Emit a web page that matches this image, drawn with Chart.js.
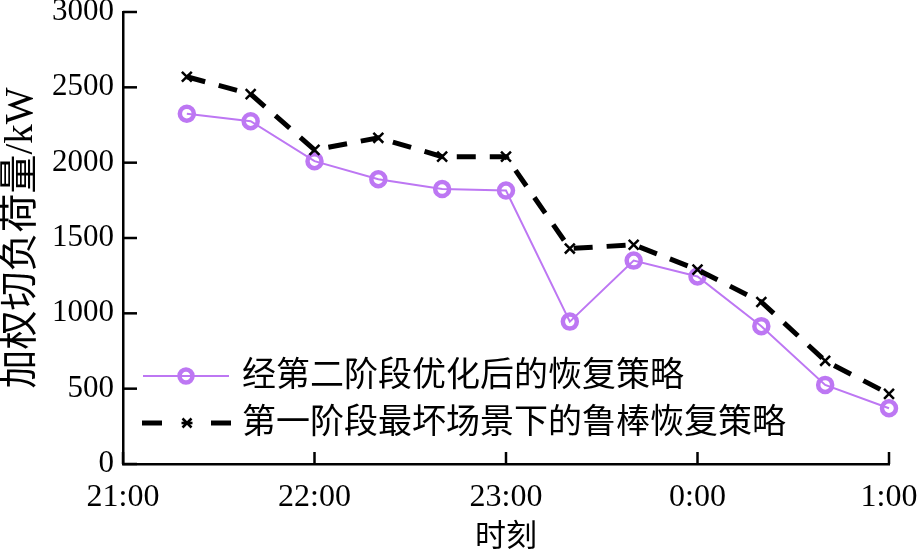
<!DOCTYPE html>
<html>
<head>
<meta charset="utf-8">
<script src="https://cdn.jsdelivr.net/npm/chart.js@4/dist/chart.umd.min.js"></script>
<style>
html,body{margin:0;padding:0;background:#fff;}
#wrap{width:922px;height:553px;position:relative;}
</style>
</head>
<body>
<div id="wrap"><canvas id="c"></canvas></div>
<script>
// ---- data ----
const xMinutes = [20, 40, 60, 80, 100, 120, 140, 160, 180, 200, 220, 240]; // minutes after 21:00
const xTickLabels = ['21:00', '22:00', '23:00', '0:00', '1:00'];
const optimizedValues = [2325, 2275, 2010, 1890, 1825, 1815, 945, 1350, 1245, 915, 525, 370];
const robustValues = [2570, 2455, 2085, 2165, 2040, 2040, 1430, 1455, 1290, 1075, 685, 465];
const seriesNames = ['经第二阶段优化后的恢复策略', '第一阶段最坏场景下的鲁棒恢复策略'];
const yTitle = '加权切负荷量/kW';
const xTitle = '时刻';

const PURPLE = '#bd77f3';
const SERIF = '"Liberation Serif", "Times New Roman", serif';
const CJK = '"Liberation Serif", "Noto Sans CJK SC", serif';

const inwardTicks = {
  id: 'inwardTicks',
  afterDraw(chart) {
    const ctx = chart.ctx, xs = chart.scales.x, ys = chart.scales.y;
    const a = chart.chartArea;
    ctx.save();
    ctx.strokeStyle = '#000';
    ctx.lineWidth = 2.5;
    xs.ticks.forEach(t => {
      const px = xs.getPixelForValue(t.value);
      ctx.beginPath(); ctx.moveTo(px, a.bottom); ctx.lineTo(px, a.bottom - 12); ctx.stroke();
    });
    ys.ticks.forEach(t => {
      const py = ys.getPixelForValue(t.value);
      ctx.beginPath(); ctx.moveTo(a.left, py); ctx.lineTo(a.left + 14, py); ctx.stroke();
    });
    ctx.restore();
  }
};

const innerLegend = {
  id: 'innerLegend',
  afterDraw(chart) {
    const ctx = chart.ctx;
    ctx.save();
    // row 1
    let y = 376;
    ctx.strokeStyle = PURPLE; ctx.lineWidth = 2;
    ctx.beginPath(); ctx.moveTo(143, y); ctx.lineTo(229, y); ctx.stroke();
    ctx.lineWidth = 4.5;
    ctx.beginPath(); ctx.arc(186, y, 6.5, 0, Math.PI * 2); ctx.stroke();
    // row 2
    let y2 = 423;
    ctx.strokeStyle = '#000'; ctx.lineWidth = 5;
    ctx.beginPath(); ctx.moveTo(142, y2); ctx.lineTo(162, y2); ctx.stroke();
    ctx.beginPath(); ctx.moveTo(211, y2); ctx.lineTo(231, y2); ctx.stroke();
    ctx.lineWidth = 2.5;
    const r = 4.5;
    ctx.beginPath();
    ctx.moveTo(187 - r, y2 - r); ctx.lineTo(187 + r, y2 + r);
    ctx.moveTo(187 - r, y2 + r); ctx.lineTo(187 + r, y2 - r);
    ctx.moveTo(187 - r - 1, y2); ctx.lineTo(187 + r + 1, y2);
    ctx.stroke();
    // text
    ctx.fillStyle = '#000';
    ctx.font = '34px ' + CJK;
    ctx.textAlign = 'left';
    ctx.textBaseline = 'middle';
    ctx.fillText(seriesNames[0], 242, y + 1);
    ctx.fillText(seriesNames[1], 242, y2 + 1);
    ctx.restore();
  }
};

new Chart(document.getElementById('c'), {
  type: 'line',
  data: {
    datasets: [
      {
        label: seriesNames[0],
        data: xMinutes.map((m, i) => ({x: m, y: optimizedValues[i]})),
        borderColor: PURPLE,
        borderWidth: 2,
        pointStyle: 'circle',
        pointRadius: 7,
        pointBorderWidth: 4.5,
        pointBorderColor: PURPLE,
        pointBackgroundColor: 'rgba(255,255,255,0)',
        tension: 0,
        order: 2,
        clip: false
      },
      {
        label: seriesNames[1],
        data: xMinutes.map((m, i) => ({x: m, y: robustValues[i]})),
        borderColor: '#000',
        borderWidth: 5,
        borderDash: [19, 14],
        pointStyle: 'crossRot',
        pointRadius: 7,
        pointBorderWidth: 2.5,
        pointBorderColor: '#000',
        pointBackgroundColor: '#000',
        tension: 0,
        order: 1,
        clip: false
      }
    ]
  },
  options: {
    responsive: true,
    maintainAspectRatio: false,
    animation: false,
    devicePixelRatio: 1,
    layout: {padding: {left: 0, right: 33, top: 12, bottom: 0}},
    plugins: {legend: {display: false}, tooltip: {enabled: false}},
    scales: {
      x: {
        type: 'linear',
        min: 0, max: 240,
        grid: {drawOnChartArea: false, drawTicks: false},
        border: {display: true, color: '#000', width: 2.5},
        ticks: {
          stepSize: 60,
          color: '#000',
          padding: 14,
          maxRotation: 0,
          font: {family: SERIF, size: 32},
          callback: (v) => xTickLabels[Math.round(v / 60)]
        },
        title: {display: true, text: xTitle, color: '#000', font: {family: CJK, size: 31, lineHeight: 1}, padding: {top: 0, bottom: 0}},
        afterFit(s) { s.height = 89; s.paddingLeft = 0; s.paddingRight = 0; }
      },
      y: {
        min: 0, max: 3000,
        grid: {drawOnChartArea: false, drawTicks: false},
        border: {display: true, color: '#000', width: 2.5},
        ticks: {
          stepSize: 500,
          color: '#000',
          padding: 9,
          font: {family: SERIF, size: 31, lineHeight: 0.75},
          callback: (v) => String(v)
        },
        title: {display: true, text: yTitle, color: '#000', font: {family: CJK, size: 39, lineHeight: 1}, padding: {top: 2.5, bottom: 0}},
        afterFit(s) { s.width = 123; s.paddingTop = 0; s.paddingBottom = 0; }
      }
    }
  },
  plugins: [inwardTicks, innerLegend]
});
</script>
</body>
</html>
